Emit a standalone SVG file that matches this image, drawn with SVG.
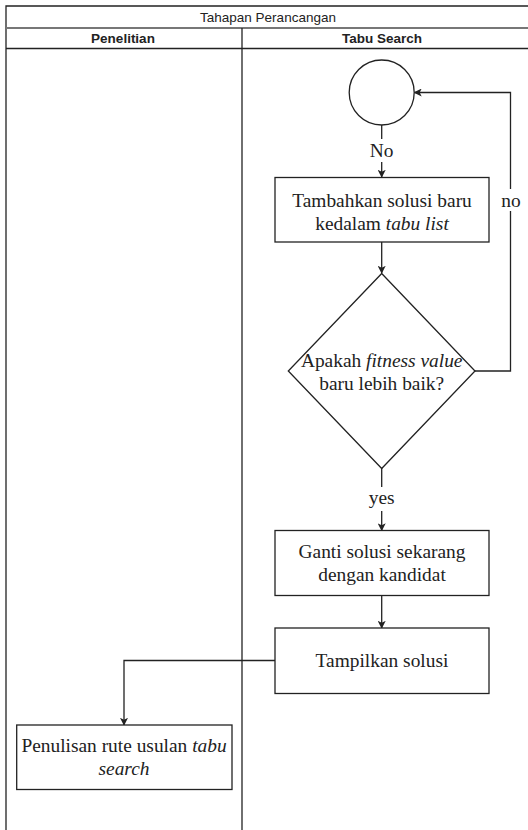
<svg xmlns="http://www.w3.org/2000/svg" width="528" height="830" viewBox="0 0 528 830">
<style>
.frame{fill:none;stroke:#222;stroke-width:1.3}
.node{fill:#fff;stroke:#222;stroke-width:1.3}
.edge{fill:none;stroke:#222;stroke-width:1.3}
.hdr{font-family:'Liberation Sans',Arial,sans-serif;font-size:13.5px;fill:#222;text-anchor:middle}
.lbl{font-family:'Liberation Serif','DejaVu Serif',serif;font-size:19.4px;fill:#222;text-anchor:middle}
</style>
<defs>
<marker id="arr" viewBox="0 0 10 10" refX="9" refY="5" markerWidth="8" markerHeight="8" markerUnits="userSpaceOnUse" orient="auto">
<path d="M0,0 L10,5 L0,10 L2.5,5 z" fill="#222"/>
</marker>
</defs>
<rect width="528" height="830" fill="#fff"/>
<g id="pool">
<path class="frame" d="M6,830 V6 H530"/>
<line x1="6" y1="28" x2="530" y2="28" stroke="#777" stroke-width="2"/>
<line class="frame" x1="6" y1="48.5" x2="530" y2="48.5"/>
<line class="frame" x1="242" y1="28" x2="242" y2="830"/>
<text class="hdr" x="268" y="22">Tahapan Perancangan</text>
<text class="hdr" x="123" y="43" font-weight="bold">Penelitian</text>
<text class="hdr" x="382" y="43" font-weight="bold">Tabu Search</text>
</g>
<g id="connectors">
<path class="edge" d="M381.7,125 V139" />
<path class="edge" d="M381.7,162 V177" marker-end="url(#arr)"/>
<text class="lbl" x="381.7" y="157">No</text>
<path class="edge" d="M381.7,242 V273" marker-end="url(#arr)"/>
<path class="edge" d="M475,371 H510.5 V92.5 H414.5" marker-end="url(#arr)"/>
<rect x="498" y="189" width="26" height="22" fill="#fff"/>
<text class="lbl" x="511" y="207">no</text>
<path class="edge" d="M381.7,468 V487"/>
<path class="edge" d="M381.7,511 V530.5" marker-end="url(#arr)"/>
<text class="lbl" x="381.7" y="504">yes</text>
<path class="edge" d="M381.7,595.5 V628" marker-end="url(#arr)"/>
<path class="edge" d="M275,660.5 H124 V725" marker-end="url(#arr)"/>
</g>
<g id="start">
<circle class="node" cx="381.7" cy="92.5" r="32.5"/>
</g>
<g id="tambah">
<rect class="node" x="275" y="177.5" width="214" height="64.5"/>
<text class="lbl" x="382" y="206.5">Tambahkan solusi baru</text>
<text class="lbl" x="382" y="229.5">kedalam <tspan font-style="italic">tabu list</tspan></text>
</g>
<g id="decision">
<polygon class="node" points="381.7,273.5 475,371 381.7,468.5 288.3,371"/>
<text class="lbl" x="381.7" y="366.5">Apakah <tspan font-style="italic">fitness value</tspan></text>
<text class="lbl" x="381.7" y="389.5">baru lebih baik?</text>
</g>
<g id="ganti">
<rect class="node" x="275" y="530.5" width="214" height="65"/>
<text class="lbl" x="382" y="558">Ganti solusi sekarang</text>
<text class="lbl" x="382" y="581">dengan kandidat</text>
</g>
<g id="tampilkan">
<rect class="node" x="275" y="628" width="214" height="65.5"/>
<text class="lbl" x="382" y="666.5">Tampilkan solusi</text>
</g>
<g id="penulisan">
<rect class="node" x="16.7" y="725" width="215.3" height="64.5"/>
<text class="lbl" x="124" y="752">Penulisan rute usulan <tspan font-style="italic">tabu</tspan></text>
<text class="lbl" x="124" y="775" font-style="italic">search</text>
</g>
</svg>
